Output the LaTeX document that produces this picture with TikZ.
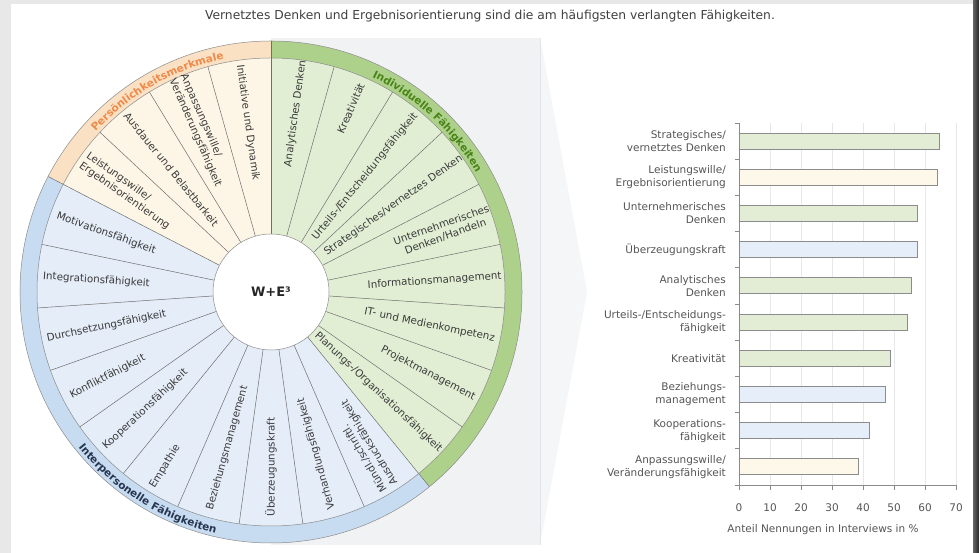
\documentclass[tikz,border=0pt]{standalone}
\usepackage{fontspec}
\setmainfont{DejaVu Sans}
\usetikzlibrary{decorations.text,calc}
\definecolor{bgout}{HTML}{E8E8E8}
\definecolor{panel}{HTML}{F1F2F4}
\definecolor{chev}{HTML}{F5F6F7}
\definecolor{panelline}{HTML}{E2E4E7}
\definecolor{orband}{HTML}{FBE1C4}
\definecolor{orseg}{HTML}{FDF6E6}
\definecolor{grband}{HTML}{ADD18A}
\definecolor{grseg}{HTML}{E2EED4}
\definecolor{blband}{HTML}{C7DCF1}
\definecolor{blseg}{HTML}{E5EDF8}
\definecolor{lineg}{HTML}{6E6E6E}
\definecolor{txt}{HTML}{3A3A3A}
\definecolor{ortxt}{HTML}{EE8A4A}
\definecolor{grtxt}{HTML}{4A8418}
\definecolor{bltxt}{HTML}{263550}
\definecolor{titletxt}{HTML}{404040}
\definecolor{charttxt}{HTML}{555555}
\definecolor{barline}{HTML}{8C8C8C}
\definecolor{barg}{HTML}{E3EDD5}
\definecolor{baro}{HTML}{FDF8EA}
\definecolor{barb}{HTML}{E6EEF9}
\definecolor{gridc}{HTML}{E8E8E8}
\definecolor{axisc}{HTML}{8A8A8A}
\begin{document}
\begin{tikzpicture}[x=1pt,y=1pt,
  lab/.style={font=\fontsize{10.3}{12.2}\selectfont, text=txt, inner sep=0pt},
  clab/.style={font=\fontsize{10.5}{13}\selectfont, text=charttxt, anchor=east, align=right, inner sep=0pt},
  tlab/.style={font=\fontsize{10.5}{13}\selectfont, text=charttxt, inner sep=0pt},
  barbox/.style={draw=barline, line width=0.8pt},
  divider/.style={draw=lineg, line width=0.5pt},
  ringline/.style={draw=lineg!80, line width=0.5pt},
  axisline/.style={draw=axisc, line width=0.8pt},
  gridline/.style={draw=gridc, line width=0.6pt}]
\useasboundingbox (0,0) rectangle (979,553);
% card and frame
\fill[bgout] (0,0) rectangle (979,553);
\fill[white] (11,0) rectangle (973,549);
\shade[left color=black!60, right color=black!85] (973,0) rectangle (979,553);
% panel behind wheel and chevron
\fill[panel] (271,8) rectangle (540,515);
\fill[chev] (540,515) -- (587,261) -- (540,8) -- cycle;
\draw[panelline] (540,8) -- (540,515);
% title
\node[font=\fontsize{12.3}{14}\selectfont, text=titletxt] (title) at (490,537) {Vernetztes Denken und Ergebnisorientierung sind die am häufigsten verlangten Fähigkeiten.};
% ---------------- wheel ----------------
\begin{scope}[shift={(271,261)}]
  % bands
  \fill[orband] (0,0) -- (90:251pt) arc[start angle=90,end angle=152.61,radius=251pt] -- cycle;
  \fill[grband] (0,0) -- (-50.87:251pt) arc[start angle=-50.87,end angle=90,radius=251pt] -- cycle;
  \fill[blband] (0,0) -- (152.61:251pt) arc[start angle=152.61,end angle=309.13,radius=251pt] -- cycle;
  % segments
  \fill[orseg] (0,0) -- (90:234pt) arc[start angle=90,end angle=152.61,radius=234pt] -- cycle;
  \fill[grseg] (0,0) -- (-50.87:234pt) arc[start angle=-50.87,end angle=90,radius=234pt] -- cycle;
  \fill[blseg] (0,0) -- (152.61:234pt) arc[start angle=152.61,end angle=309.13,radius=234pt] -- cycle;
  % dividers
  \foreach \k in {0,...,22} \draw[divider] ({90+15.652*\k}:58pt) -- ({90+15.652*\k}:234pt);
  \foreach \a in {90,152.61,309.13} \draw[divider] (\a:234pt) -- (\a:251pt);
  \draw[ringline] (0,0) circle[radius=234pt];
  \draw[ringline] (0,0) circle[radius=251pt];
  \fill[white] (0,0) circle[radius=58pt];
  \draw[ringline] (0,0) circle[radius=58pt];
  \node[font=\bfseries\fontsize{13}{15}\selectfont, text=black!85] (core) at (0,0) {W+E³};
  % green labels
  \node[lab, rotate=82.17] (g0) at (82.17:180pt) {Analytisches Denken};
  \node[lab, rotate=66.52] (g1) at (66.52:200pt) {Kreativität};
  \node[lab, rotate=50.87] (g2) at (50.87:149pt) {Urteils-/Entscheidungsfähigkeit};
  \node[lab, rotate=35.22] (g3) at (35.22:150pt) {Strategisches/vernetzes Denken};
  \node[lab, rotate=19.57, align=center] (g4) at (19.57:183pt) {Unternehmerisches\\Denken/Handeln};
  \node[lab, rotate=3.91] (g5) at (3.91:164pt) {Informationsmanagement};
  \node[lab, rotate=-11.74] (g6) at (-11.74:162pt) {IT- und Medienkompetenz};
  \node[lab, rotate=-27.39] (g7) at (-27.39:177pt) {Projektmanagement};
  \node[lab, rotate=-43.04] (g8) at (-43.04:147pt) {Planungs-/Organisationsfähigkeit};
  % orange labels
  \node[lab, rotate=-82.17] (o0) at (97.83:171pt) {Initiative und Dynamik};
  \node[lab, rotate=-66.52, align=left] (o1) at (113.48:176pt) {Anpassungswille/\\Veränderungsfähigkeit};
  \node[lab, rotate=-50.87] (o2) at (129.13:158pt) {Ausdauer und Belastbarkeit};
  \node[lab, rotate=-35.22, align=left] (o3) at (144.78:175pt) {Leistungswille/\\Ergebnisorientierung};
  % blue labels
  \node[lab, rotate=-19.57] (b0) at (160.43:175pt) {Motivationsfähigkeit};
  \node[lab, rotate=-3.91] (b1) at (176.09:175pt) {Integrationsfähigkeit};
  \node[lab, rotate=11.74] (b2) at (191.74:168pt) {Durchsetzungsfähigkeit};
  \node[lab, rotate=27.39] (b3) at (207.39:184pt) {Konfliktfähigkeit};
  \node[lab, rotate=43.04] (b4) at (223.04:172pt) {Kooperationsfähigkeit};
  \node[lab, rotate=58.70] (b5) at (238.70:204pt) {Empathie};
  \node[lab, rotate=74.35] (b6) at (254.35:162pt) {Beziehungsmanagement};
  \node[lab, rotate=90] (b7) at (270:175pt) {Überzeugungskraft};
  \node[lab, rotate=105.65] (b8) at (285.65:168pt) {Verhandlungsfähigkeit};
  \node[lab, rotate=121.30, align=left] (b9) at (301.30:180pt) {Mündl./schriftl.\\Ausdrucksfähigkeit};
  % band titles
  \path[decorate, decoration={text along path, text align=center,
    text={|\fontsize{10.5}{12}\selectfont\bfseries\color{ortxt}|Persönlichkeitsmerkmale}}]
    (150:237.5pt) arc[start angle=150, end angle=89, radius=237.5pt];
  \path[decorate, decoration={text along path, text align=center,
    text={|\fontsize{10.5}{12}\selectfont\bfseries\color{grtxt}|Individuelle Fähigkeiten}}]
    (80:237.5pt) arc[start angle=80, end angle=15, radius=237.5pt];
  \path[decorate, decoration={text along path, text align=center,
    text={|\fontsize{10.5}{12}\selectfont\bfseries\color{bltxt}|Interpersonelle Fähigkeiten}}]
    (200:247.5pt) arc[start angle=200, end angle=276, radius=247.5pt];
\end{scope}
% ---------------- bar chart ----------------
\foreach \k in {1,...,7} \draw[gridline] ({739+31*\k},68) -- ({739+31*\k},430);
\draw[barbox, fill=barg] (739,403.9) rectangle (939,419.9);
\draw[barbox, fill=baro] (739,367.7) rectangle (937.1,383.7);
\draw[barbox, fill=barg] (739,331.5) rectangle (916.9,347.5);
\draw[barbox, fill=barb] (739,295.3) rectangle (916.9,311.3);
\draw[barbox, fill=barg] (739,259.1) rectangle (911,275.1);
\draw[barbox, fill=barg] (739,222.9) rectangle (907,238.9);
\draw[barbox, fill=barg] (739,186.7) rectangle (890,202.7);
\draw[barbox, fill=barb] (739,150.5) rectangle (885,166.5);
\draw[barbox, fill=barb] (739,114.3) rectangle (869,130.3);
\draw[barbox, fill=baro] (739,78.1) rectangle (858,94.1);
\draw[axisline] (739,68) -- (956,68);
\draw[axisline] (739,68) -- (739,430);
\foreach \k in {0,...,7} {
  \draw[axisline] ({739+31*\k},68) -- ({739+31*\k},63);
  \pgfmathtruncatemacro{\val}{10*\k}
  \node[tlab] (tick\k) at ({739+31*\k},45) {\val};
}
\foreach \k in {0,...,10} \draw[axisline] (739,{430-36.2*\k}) -- (735,{430-36.2*\k});
\node[tlab] (xtitle) at (823,23) {Anteil Nennungen in Interviews in \%};
\node[clab] (c0) at (726,411.9) {Strategisches/\\vernetztes Denken};
\node[clab] (c1) at (726,375.7) {Leistungswille/\\Ergebnisorientierung};
\node[clab] (c2) at (726,339.5) {Unternehmerisches\\Denken};
\node[clab] (c3) at (726,303.3) {Überzeugungskraft};
\node[clab] (c4) at (726,267.1) {Analytisches\\Denken};
\node[clab] (c5) at (726,230.9) {Urteils-/Entscheidungs-\\fähigkeit};
\node[clab] (c6) at (726,194.7) {Kreativität};
\node[clab] (c7) at (726,158.5) {Beziehungs-\\management};
\node[clab] (c8) at (726,122.3) {Kooperations-\\fähigkeit};
\node[clab] (c9) at (726,86.1) {Anpassungswille/\\Veränderungsfähigkeit};
\end{tikzpicture}
\end{document}
